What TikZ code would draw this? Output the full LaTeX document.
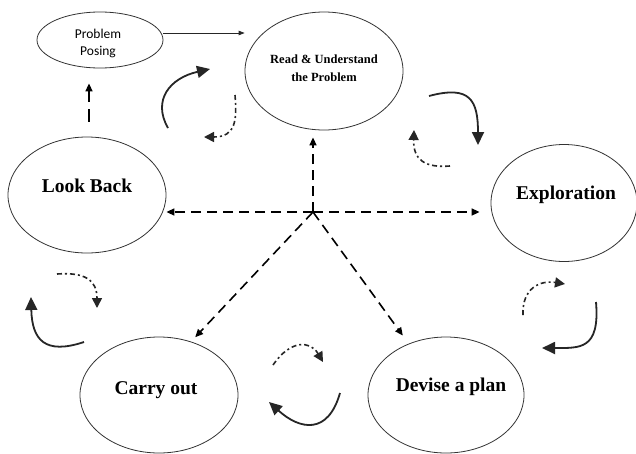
\documentclass[tikz,border=0pt]{standalone}
\usepackage{fontspec}
\setmainfont{Liberation Serif}
\newfontfamily\posefont{Carlito}
\usetikzlibrary{arrows.meta,shapes.geometric}
\begin{document}
\begin{tikzpicture}[x=1pt,y=-1pt,
  oval/.style={draw=black!80, line width=0.8pt, ellipse, inner sep=0pt},
  big/.style={font=\fontsize{19.5}{22}\selectfont\bfseries},
  hubline/.style={line width=1.6pt, dash pattern=on 10pt off 6pt, -{Triangle[length=8pt,width=7pt]}},
  thinarrow/.style={line width=0.9pt, black!85, -{Triangle[length=6pt,width=4.5pt]}},
  cyclearrow/.style={line width=1.8pt, black!85, -{Triangle[length=13pt,width=12pt]}},
  dashdot/.style={line width=1.6pt, black!85, dash pattern=on 5pt off 3pt on 2pt off 3pt, -{Triangle[length=10pt,width=10pt]}}]
\useasboundingbox (0,0) rectangle (636,453);
\fill[white] (0,0) rectangle (636,453);

% ellipses
\node[oval, minimum width=126pt, minimum height=56pt,
  label={[font=\posefont\fontsize{13.5}{17.5}\selectfont, align=center, yshift=-3.5pt, xshift=-2pt]center:Problem\\Posing}] (posing) at (100,40) {};
\node[oval, minimum width=158pt, minimum height=118pt,
  label={[font=\fontsize{12.5}{17.5}\selectfont\bfseries, align=center, yshift=3pt]center:Read \& Understand\\the Problem}] (read) at (324,71) {};
\node[oval, minimum width=158pt, minimum height=116pt,
  label={[big, yshift=9pt]center:Look Back}] (lookback) at (87,195) {};
\node[oval, minimum width=146pt, minimum height=117pt,
  label={[big, yshift=8pt, xshift=2pt]center:Exploration}] (explore) at (564,203) {};
\node[oval, minimum width=158pt, minimum height=116pt,
  label={[big, yshift=5pt, xshift=-3pt]center:Carry out}] (carry) at (159,395) {};
\node[oval, minimum width=156pt, minimum height=116pt,
  label={[big, yshift=8pt, xshift=5pt]center:Devise a plan}] (devise) at (446,395) {};

\coordinate (hub) at (313,212);

% hub connectors
\draw[hubline, shorten >=7pt] (hub) -- (hub |- read.south);
\draw[hubline] (hub) -- (hub -| lookback.east);
\draw[hubline, shorten >=11pt] (hub) -- (hub -| explore.west);
\draw[hubline, shorten >=6pt] (hub) -- (carry.59);
\draw[hubline, shorten >=10pt] (hub) -- (devise.126);

% posing connectors
\draw[thinarrow] ([yshift=7pt]posing.east) -- ([yshift=7pt]posing.east -| read.west);
\draw[line width=1.6pt, dash pattern=on 13pt off 7pt, -{Triangle[length=8pt,width=7pt]}, shorten <=15pt, shorten >=15pt]
  ([xshift=2pt]lookback.north) -- ([xshift=2pt]lookback.north |- posing.south);

% cycle arrows
\draw[cyclearrow] (168,128) .. controls (152,100) and (170,78) .. (210,69);
\draw[dashdot] (235,95) .. controls (237,120) and (236,137) .. (204,137);
\draw[cyclearrow] (429,96) .. controls (470,85) and (478,100) .. (478,145);
\draw[dashdot] (450,166) .. controls (425,168) and (413,160) .. (414,130);
\draw[dashdot] (523,315) .. controls (522,288) and (540,280) .. (565,284);
\draw[cyclearrow] (596,302) .. controls (600,350) and (580,348) .. (542,348);
\draw[dashdot] (273,365) .. controls (290,340) and (310,340) .. (323,362);
\draw[cyclearrow] (340,393) .. controls (328,435) and (300,430) .. (269,402);
\draw[dashdot] (57,274) .. controls (85,272) and (97,280) .. (97,308);
\draw[cyclearrow] (84,342) .. controls (45,355) and (32,340) .. (31,297);
\end{tikzpicture}
\end{document}
